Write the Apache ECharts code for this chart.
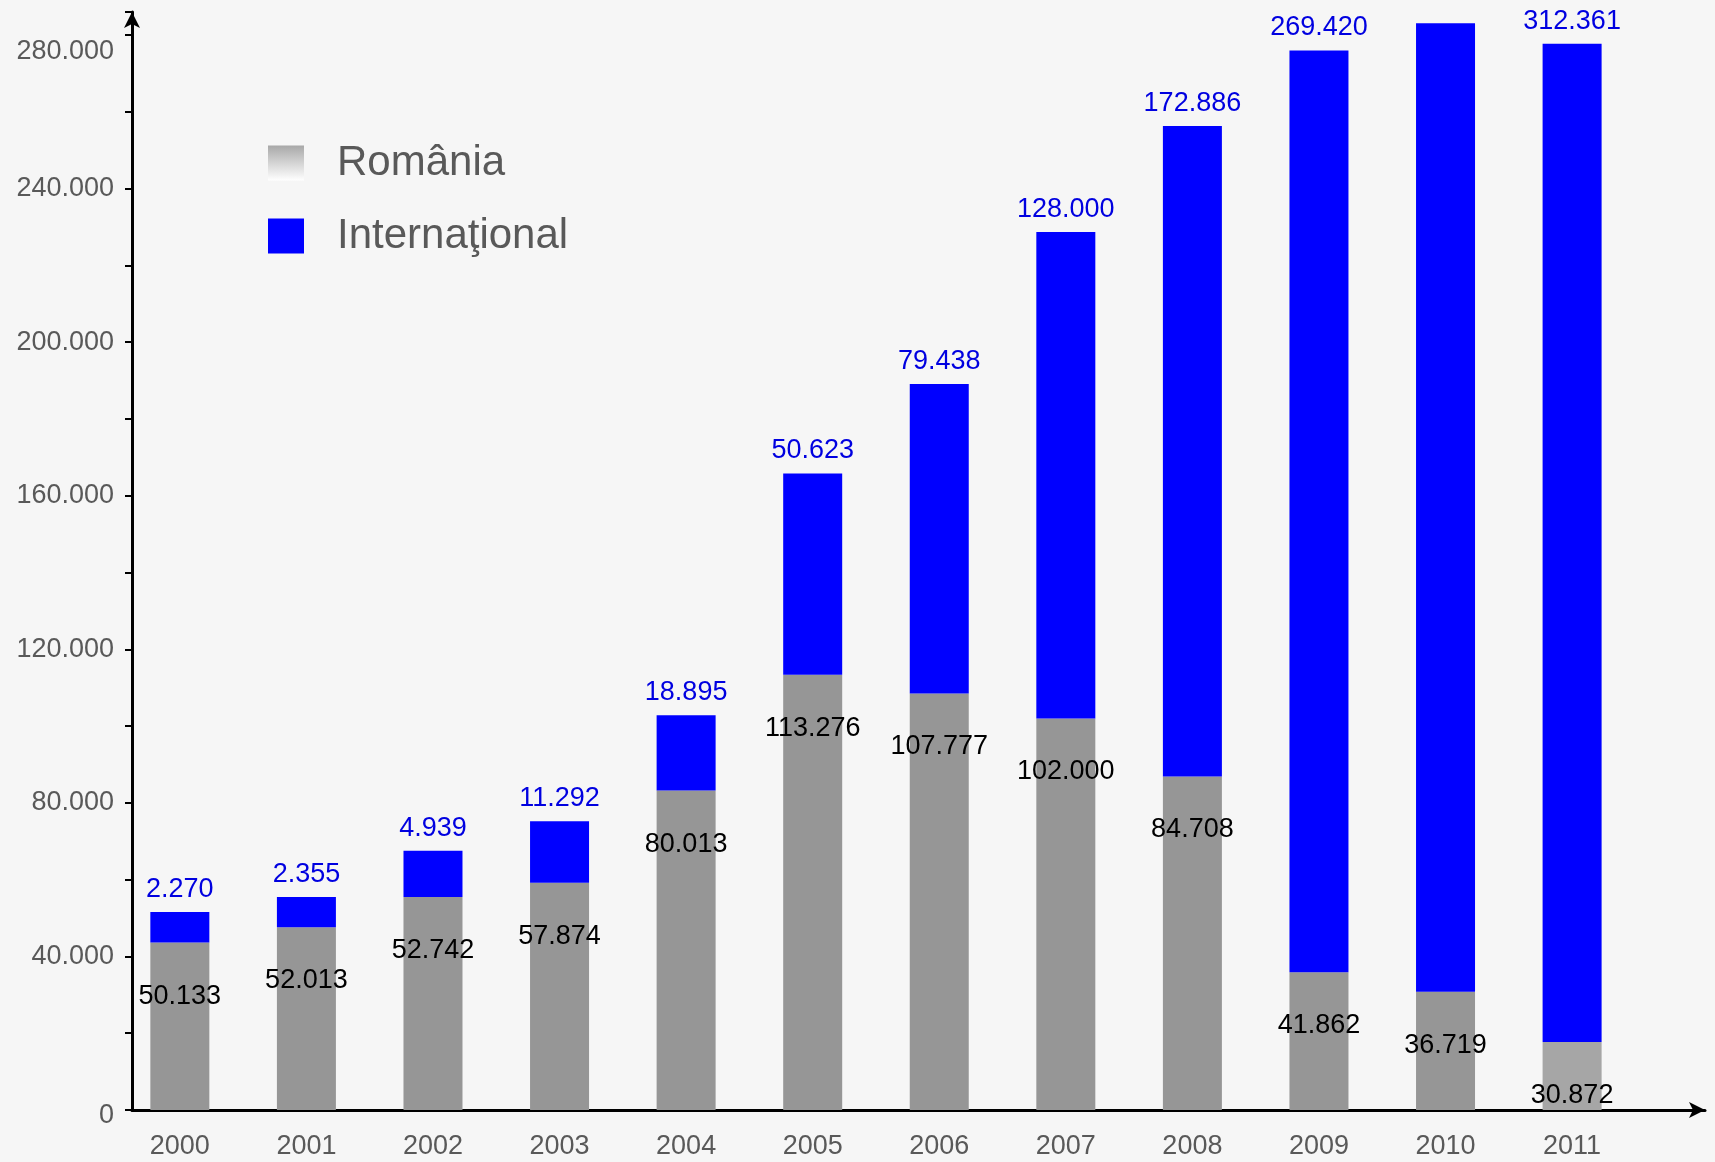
<!DOCTYPE html>
<html>
<head>
<meta charset="utf-8">
<script src="https://cdn.jsdelivr.net/npm/echarts@6/dist/echarts.min.js"></script>
<style>
html,body{margin:0;padding:0;background:#f6f6f6;}
#chart{width:1715px;height:1162px;}
</style>
</head>
<body>
<div id="chart"></div>
<script>
// Categories
var years = ['2000','2001','2002','2003','2004','2005','2006','2007','2008','2009','2010','2011'];
// Bar heights as drawn in the picture
var romaniaHeights = [43600, 47600, 55500, 59200, 83200, 113400, 108500, 102000, 86900, 35900, 30800, 17700];
var internationalHeights = [8000, 7900, 12000, 16000, 19600, 52400, 80600, 126700, 169400, 240100, 252300, 260000];
// Printed value labels
var romaniaLabels = [50133, 52013, 52742, 57874, 80013, 113276, 107777, 102000, 84708, 41862, 36719, 30872];
var internationalLabels = [2270, 2355, 4939, 11292, 18895, 50623, 79438, 128000, 172886, 269420, null, 312361];
// Y axis tick values
var yTicks = [0, 40000, 80000, 120000, 160000, 200000, 240000, 280000];

function fmt(v) {
  return String(v).replace(/\B(?=(\d{3})+(?!\d))/g, '.');
}

var chart = echarts.init(document.getElementById('chart'));
var FONT = '"Liberation Sans", Arial, sans-serif';

var option = {
  backgroundColor: '#f6f6f6',
  animation: false,
  textStyle: { fontFamily: FONT },
  legend: {
    orient: 'vertical',
    left: 263,
    top: 137,
    itemWidth: 36,
    itemHeight: 35,
    itemGap: 31,
    icon: 'rect',
    textStyle: { fontSize: 42, color: '#595959', fontFamily: FONT, padding: [0, 0, 0, 28] },
    data: [
      { name: 'România', itemStyle: { color: new echarts.graphic.LinearGradient(0, 0, 0, 1, [
        { offset: 0, color: '#a8a8a8' }, { offset: 1, color: '#ffffff' }]) } },
      { name: 'Internaţional', itemStyle: { color: '#0000ff' } }
    ]
  },
  grid: { left: 132, right: 10, top: 12, bottom: 52, containLabel: false },
  xAxis: {
    type: 'value',
    min: -0.378,
    max: 12.05,
    minInterval: 1,
    maxInterval: 1,
    axisLine: { show: true, symbol: ['none', 'arrow'], symbolSize: [12, 16], lineStyle: { color: '#000', width: 3 } },
    axisTick: { show: false },
    splitLine: { show: false },
    axisLabel: {
      fontSize: 27, color: '#595959', margin: 23, fontFamily: FONT,
      showMinLabel: false, showMaxLabel: false,
      formatter: function (v) {
        var r = Math.round(v);
        return (Math.abs(v - r) < 1e-6 && years[r]) ? years[r] : '';
      }
    }
  },
  yAxis: {
    type: 'value',
    min: 0,
    max: 286000,
    interval: 40000,
    axisLine: { show: true, onZero: false, symbol: ['none', 'arrow'], symbolSize: [12, 16], lineStyle: { color: '#000', width: 3 } },
    axisTick: { show: true, length: 7, lineStyle: { color: '#000', width: 2 } },
    minorTick: { show: true, splitNumber: 2, length: 7, lineStyle: { color: '#000', width: 2 } },
    splitLine: { show: false },
    axisLabel: {
      fontSize: 27, color: '#595959', margin: 18, fontFamily: FONT,
      rich: {
        low: { fontSize: 27, color: '#595959', fontFamily: FONT, padding: [34, 0, 0, 0] },
        low0: { fontSize: 27, color: '#595959', fontFamily: FONT, padding: [12, 0, 0, 0] }
      },
      formatter: function (v) {
        if (yTicks.indexOf(v) < 0) return '';
        if (v === 280000) return '{low|' + fmt(v) + '}';
        if (v === 0) return '{low0|' + fmt(v) + '}';
        return fmt(v);
      }
    }
  },
  series: [
    {
      name: 'România',
      type: 'bar',
      stack: 'total',
      barWidth: 59,
      encode: { x: 1, y: 0 },
      itemStyle: { color: '#969696' },
      data: romaniaHeights.map(function (h, i) {
        var d = { value: [h, i] };
        if (i === years.length - 1) d.itemStyle = { color: '#a6a6a6' };
        return d;
      }),
      label: {
        show: true,
        position: 'insideTop',
        distance: 40,
        fontSize: 27,
        color: '#000',
        fontFamily: FONT,
        formatter: function (p) { return fmt(romaniaLabels[p.dataIndex]); }
      }
    },
    {
      name: 'Internaţional',
      type: 'bar',
      stack: 'total',
      barWidth: 59,
      encode: { x: 1, y: 0 },
      itemStyle: { color: '#0000ff' },
      data: internationalHeights.map(function (h, i) { return { value: [h, i] }; }),
      label: {
        show: true,
        position: 'top',
        distance: 9,
        fontSize: 27,
        color: '#0000e0',
        fontFamily: FONT,
        formatter: function (p) {
          var v = internationalLabels[p.dataIndex];
          return v == null ? '' : fmt(v);
        }
      }
    }
  ]
};
chart.setOption(option);
</script>
</body>
</html>
